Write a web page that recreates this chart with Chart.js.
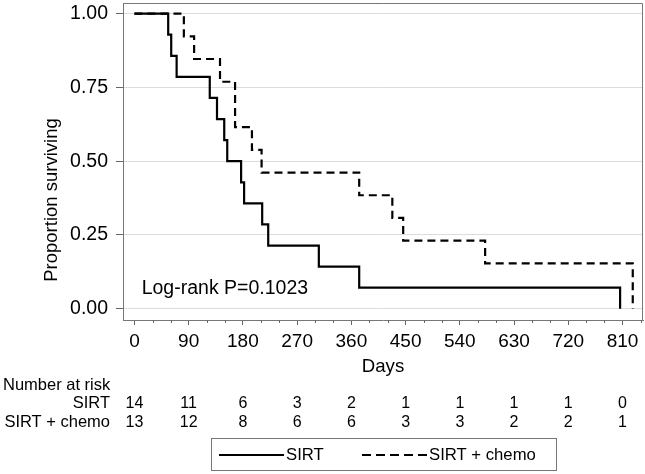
<!DOCTYPE html>
<html>
<head>
<meta charset="utf-8">
<script src="https://cdn.jsdelivr.net/npm/chart.js@4.4.0/dist/chart.umd.min.js"></script>
<style>
    html, body { margin: 0; padding: 0; background: #fff; }
</style>
</head>
<body>
<canvas id="grafikKM" width="645" height="474"></canvas>
<script>
// Kaplan-Meier data (days, proportion surviving)
const sirtDays = [0, 56, 61, 70, 125, 137, 149, 154, 177, 182, 212, 222, 306, 373, 806];
const sirtSurv = [1, 0.9286, 0.8571, 0.7857, 0.7143, 0.6429, 0.5714, 0.5, 0.4286, 0.3571, 0.2857, 0.2143, 0.1429, 0.0714, 0];
const chemoDays = [0, 82, 99, 142, 167, 195, 211, 373, 428, 446, 582, 827];
const chemoSurv = [1, 0.9231, 0.8462, 0.7692, 0.6154, 0.5385, 0.4615, 0.3846, 0.3077, 0.2308, 0.1538, 0];

const dayTicks = [0, 90, 180, 270, 360, 450, 540, 630, 720, 810];
const survTicks = [0, 0.25, 0.5, 0.75, 1];

// number at risk at each day tick
const riskSirt = [14, 11, 6, 3, 2, 1, 1, 1, 1, 0];
const riskChemo = [13, 12, 8, 6, 6, 3, 3, 2, 2, 1];

const seriesNames = ['SIRT', 'SIRT + chemo'];
const pValueText = 'Log-rank P=0.1023';
const yTitle = 'Proportion surviving';

const FONT = "'Liberation Sans', Arial, Helvetica, sans-serif";
const DASH = [8, 5];

const extras = {
    id: 'extras',
    afterDraw(chart) {
        const ctx = chart.ctx;
        const area = chart.chartArea;
        const xs = chart.scales.x;
        const ys = chart.scales.y;

        ctx.save();
        // top and right border of the frame
        ctx.strokeStyle = '#777';
        ctx.lineWidth = 1;
        ctx.beginPath();
        ctx.moveTo(area.left, Math.round(area.top) + 0.5);
        ctx.lineTo(Math.round(area.right) - 0.5, Math.round(area.top) + 0.5);
        ctx.lineTo(Math.round(area.right) - 0.5, area.bottom);
        ctx.stroke();

        // minor ticks every 30 days
        ctx.strokeStyle = '#666';
        ctx.beginPath();
        dayTicks.forEach(d => {
            [30, 60].forEach(m => {
                const v = d + m;
                if (v > xs.max) return;
                const px = Math.round(xs.getPixelForValue(v)) + 0.5;
                ctx.moveTo(px, area.bottom);
                ctx.lineTo(px, area.bottom + 3);
            });
        });
        ctx.stroke();

        // y axis title (sits a bit below the middle in the original)
        ctx.fillStyle = '#000';
        ctx.save();
        ctx.translate(52, 200);
        ctx.rotate(-Math.PI / 2);
        ctx.font = '18.5px ' + FONT;
        ctx.textAlign = 'center';
        ctx.textBaseline = 'middle';
        ctx.fillText(yTitle, 0, 0);
        ctx.restore();

        // log-rank text
        ctx.font = '19.5px ' + FONT;
        ctx.textAlign = 'left';
        ctx.textBaseline = 'middle';
        ctx.fillText(pValueText, xs.getPixelForValue(12), ys.getPixelForValue(0.067));

        // number at risk table
        const b = area.bottom;
        ctx.font = '16.5px ' + FONT;
        ctx.fillText('Number at risk', 3, b + 65);
        ctx.textAlign = 'right';
        ctx.fillText(seriesNames[0], 110, b + 83.5);
        ctx.fillText(seriesNames[1], 110, b + 102.5);
        ctx.font = '16px ' + FONT;
        ctx.textAlign = 'center';
        dayTicks.forEach((d, i) => {
            const px = xs.getPixelForValue(d);
            ctx.fillText(String(riskSirt[i]), px, b + 83.5);
            ctx.fillText(String(riskChemo[i]), px, b + 102.5);
        });

        // legend box
        ctx.strokeStyle = '#777';
        ctx.strokeRect(211.5, 438.5, 345, 32);
        ctx.strokeStyle = '#000';
        ctx.lineWidth = 2;
        ctx.beginPath();
        ctx.moveTo(219, 455);
        ctx.lineTo(284, 455);
        ctx.stroke();
        ctx.setLineDash([9, 5]);
        ctx.beginPath();
        ctx.moveTo(362, 455);
        ctx.lineTo(428, 455);
        ctx.stroke();
        ctx.setLineDash([]);
        ctx.font = '16.7px ' + FONT;
        ctx.textAlign = 'left';
        ctx.fillText(seriesNames[0], 286, 455);
        ctx.fillText(seriesNames[1], 429, 455);
        ctx.restore();
    }
};

const ctx = document.getElementById('grafikKM').getContext('2d');

new Chart(ctx, {
    type: 'line',
    data: {
        datasets: [{
            label: seriesNames[0],
            data: sirtDays.map((d, i) => ({ x: d, y: sirtSurv[i] })),
            borderColor: '#000',
            borderWidth: 2.2,
            stepped: true,
            pointRadius: 0,
            fill: false
        }, {
            label: seriesNames[1],
            data: chemoDays.map((d, i) => ({ x: d, y: chemoSurv[i] })),
            borderColor: '#000',
            borderWidth: 2.2,
            borderDash: DASH,
            stepped: true,
            pointRadius: 0,
            fill: false
        }]
    },
    options: {
        responsive: false,
        animation: false,
        layout: {
            padding: { top: 3, right: 2, left: 0, bottom: 0 }
        },
        plugins: {
            legend: { display: false },
            tooltip: { enabled: false }
        },
        scales: {
            x: {
                type: 'linear',
                min: -19,
                max: 844,
                afterBuildTicks: s => { s.ticks = dayTicks.map(v => ({ value: v })); },
                afterFit: s => {
                    s.height = 154;
                    s.paddingLeft = 0;
                    s.paddingRight = 0;
                },
                grid: {
                    drawOnChartArea: false,
                    drawTicks: true,
                    tickLength: 5,
                    tickColor: '#666'
                },
                border: { color: '#777', width: 1 },
                ticks: {
                    color: '#000',
                    font: { family: FONT, size: 19 },
                    padding: 5,
                    maxRotation: 0,
                    autoSkip: false
                },
                title: {
                    display: true,
                    text: 'Days',
                    color: '#000',
                    font: { family: FONT, size: 18.6 },
                    padding: { top: 0, bottom: 96 }
                }
            },
            y: {
                min: -0.038,
                max: 1.036,
                afterBuildTicks: s => { s.ticks = survTicks.map(v => ({ value: v })); },
                afterFit: s => {
                    s.width = 123;
                    s.paddingTop = 0;
                    s.paddingBottom = 0;
                },
                grid: {
                    color: '#dcdcdc',
                    tickColor: '#666',
                    tickLength: 7
                },
                border: { color: '#777', width: 1 },
                ticks: {
                    color: '#000',
                    font: { family: FONT, size: 19.5 },
                    padding: 8,
                    callback: v => v.toFixed(2)
                }
            }
        }
    },
    plugins: [extras]
});
</script>
</body>
</html>
